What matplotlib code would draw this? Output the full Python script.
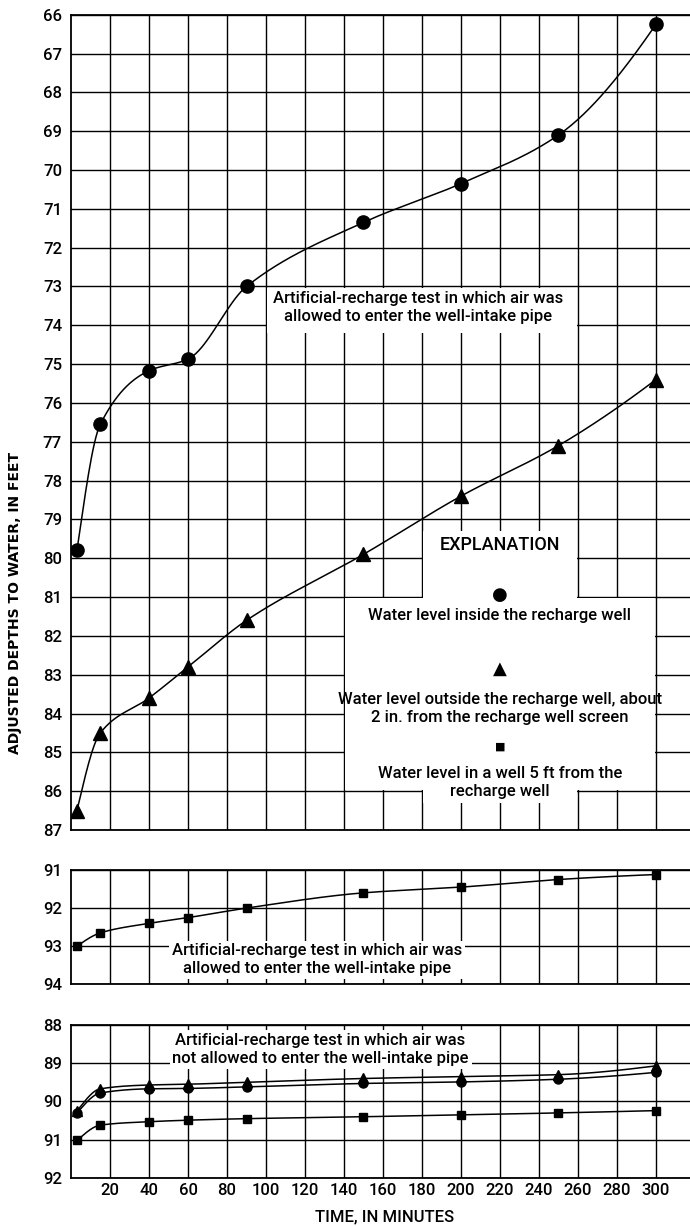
import numpy as np
import matplotlib.pyplot as plt
from matplotlib.patches import Rectangle

# Time of each reading, in minutes
minutes = [3, 15, 40, 60, 90, 150, 200, 250, 300]

# Test in which air was allowed to enter the well-intake pipe (depth, ft)
inside_air = [79.8, 76.55, 75.17, 74.87, 73.0, 71.35, 70.35, 69.1, 66.25]
outside_air = [86.5, 84.5, 83.6, 82.8, 81.6, 79.9, 78.4, 77.1, 75.4]
well5ft_air = [93.0, 92.65, 92.4, 92.25, 92.0, 91.6, 91.45, 91.25, 91.12]

# Test in which air was not allowed to enter the well-intake pipe (depth, ft)
inside_noair = [90.3, 89.78, 89.67, 89.66, 89.62, 89.53, 89.49, 89.42, 89.24]
outside_noair = [90.25, 89.67, 89.57, 89.55, 89.5, 89.4, 89.35, 89.3, 89.07]
well5ft_noair = [91.02, 90.62, 90.53, 90.49, 90.45, 90.4, 90.35, 90.3, 90.24]

xtick_values = list(range(20, 301, 20))

plt.rcParams['font.family'] = ['Roboto', 'DejaVu Sans']
plt.rcParams['font.size'] = 12
plt.rcParams['font.weight'] = 'medium'


def smooth(x, y, n=400):
    # monotone cubic (pchip) curve through the readings, like the hand-drawn lines
    x = np.asarray(x, float)
    y = np.asarray(y, float)
    h = np.diff(x)
    d = np.diff(y) / h
    m = np.zeros_like(y)
    for k in range(1, len(x) - 1):
        if d[k - 1] * d[k] > 0:
            w1 = 2 * h[k] + h[k - 1]
            w2 = h[k] + 2 * h[k - 1]
            m[k] = (w1 + w2) / (w1 / d[k - 1] + w2 / d[k])
    m[0] = ((2 * h[0] + h[1]) * d[0] - h[0] * d[1]) / (h[0] + h[1])
    if np.sign(m[0]) != np.sign(d[0]):
        m[0] = 0
    m[-1] = ((2 * h[-1] + h[-2]) * d[-1] - h[-1] * d[-2]) / (h[-1] + h[-2])
    if np.sign(m[-1]) != np.sign(d[-1]):
        m[-1] = 0
    xs = np.linspace(x[0], x[-1], n)
    i = np.clip(np.searchsorted(x, xs) - 1, 0, len(x) - 2)
    t = (xs - x[i]) / h[i]
    ys = ((2 * t**3 - 3 * t**2 + 1) * y[i] + (t**3 - 2 * t**2 + t) * h[i] * m[i]
          + (-2 * t**3 + 3 * t**2) * y[i + 1] + (t**3 - t**2) * h[i] * m[i + 1])
    return xs, ys


def series(ax, y, marker, ms):
    xs, ys = smooth(minutes, y)
    ax.plot(xs, ys, color='black', lw=1.1, zorder=3)
    ax.plot(minutes, y, ls='none', marker=marker, ms=ms, color='black', zorder=4)


def style(ax, ylo, yhi, labels=False):
    ax.set_xlim(0, 317.5)
    ax.set_ylim(yhi, ylo)
    ax.set_xticks(xtick_values)
    ax.set_yticks(np.arange(ylo, yhi + 1))
    ax.grid(True, color='black', lw=1.0)
    ax.set_axisbelow(True)
    ax.spines['right'].set_visible(False)
    for s in ['left', 'top', 'bottom']:
        ax.spines[s].set_linewidth(1.3)
    ax.tick_params(axis='both', length=0, labelsize=12)
    ax.tick_params(axis='y', pad=6.5)
    ax.tick_params(axis='x', pad=4, labelbottom=labels)


fig = plt.figure(figsize=(6.9, 12.26), dpi=100)
ax1 = fig.add_axes([0.103, 0.323, 0.897, 0.665])
ax2 = fig.add_axes([0.103, 0.1971, 0.897, 0.0933])
ax3 = fig.add_axes([0.103, 0.0392, 0.897, 0.1248])

# top panel
style(ax1, 66, 87)
series(ax1, inside_air, 'o', 9.5)
series(ax1, outside_air, '^', 10)
ax1.add_patch(Rectangle((100.4, 73.05), 159.2, 1.15, facecolor='white', edgecolor='none', zorder=1))
ax1.add_patch(Rectangle((140.4, 81.03), 159.2, 4.94, facecolor='white', edgecolor='none', zorder=1))
ax1.add_patch(Rectangle((180.4, 79.3), 79.2, 7.0, facecolor='white', edgecolor='none', zorder=1))
ax1.text(178, 73.55, "Artificial-recharge test in which air was\nallowed to enter the well-intake pipe",
         ha='center', va='center', linespacing=1.25, zorder=5)

ax1.text(220, 79.65, "EXPLANATION", ha='center', va='center', fontsize=13, zorder=5)
ax1.text(220, 80.95, "\u25CF", ha='center', va='center', fontsize=13, family='DejaVu Sans', zorder=5)
ax1.text(220, 81.47, "Water level inside the recharge well", ha='center', va='center', zorder=5)
ax1.text(220, 82.85, "\u25B2", ha='center', va='center', fontsize=13, family='DejaVu Sans', zorder=5)
ax1.text(220, 83.88, "Water level outside the recharge well, about\n2 in. from the recharge well screen",
         ha='center', va='center', linespacing=1.25, zorder=5)
ax1.text(220, 84.84, "\u25A0", ha='center', va='center', fontsize=8, family='DejaVu Sans', zorder=5)
ax1.text(220, 85.77, "Water level in a well 5 ft from the\nrecharge well",
         ha='center', va='center', linespacing=1.25, zorder=5)

# middle panel
style(ax2, 91, 94)
series(ax2, well5ft_air, 's', 5.5)
ax2.text(126, 93.36, "Artificial-recharge test in which air was\nallowed to enter the well-intake pipe",
         ha='center', va='center', linespacing=1.25, zorder=5,
         bbox=dict(facecolor='white', edgecolor='none', pad=2))

# bottom panel
style(ax3, 88, 92, labels=True)
series(ax3, outside_noair, '^', 6.5)
series(ax3, inside_noair, 'o', 6.5)
series(ax3, well5ft_noair, 's', 5.5)
ax3.text(128, 88.65, "Artificial-recharge test in which air was\nnot allowed to enter the well-intake pipe",
         ha='center', va='center', linespacing=1.25, zorder=5,
         bbox=dict(facecolor='white', edgecolor='none', pad=2))

fig.text(0.022, 0.508, "ADJUSTED DEPTHS TO WATER, IN FEET", rotation=90, ha='center', va='center',
         fontsize=10, fontweight='bold', family='DejaVu Sans')
fig.text(0.558, 0.0075, "TIME, IN MINUTES", ha='center', va='center', fontsize=12)

plt.savefig("out.png", dpi=100, facecolor='white')
plt.close()
